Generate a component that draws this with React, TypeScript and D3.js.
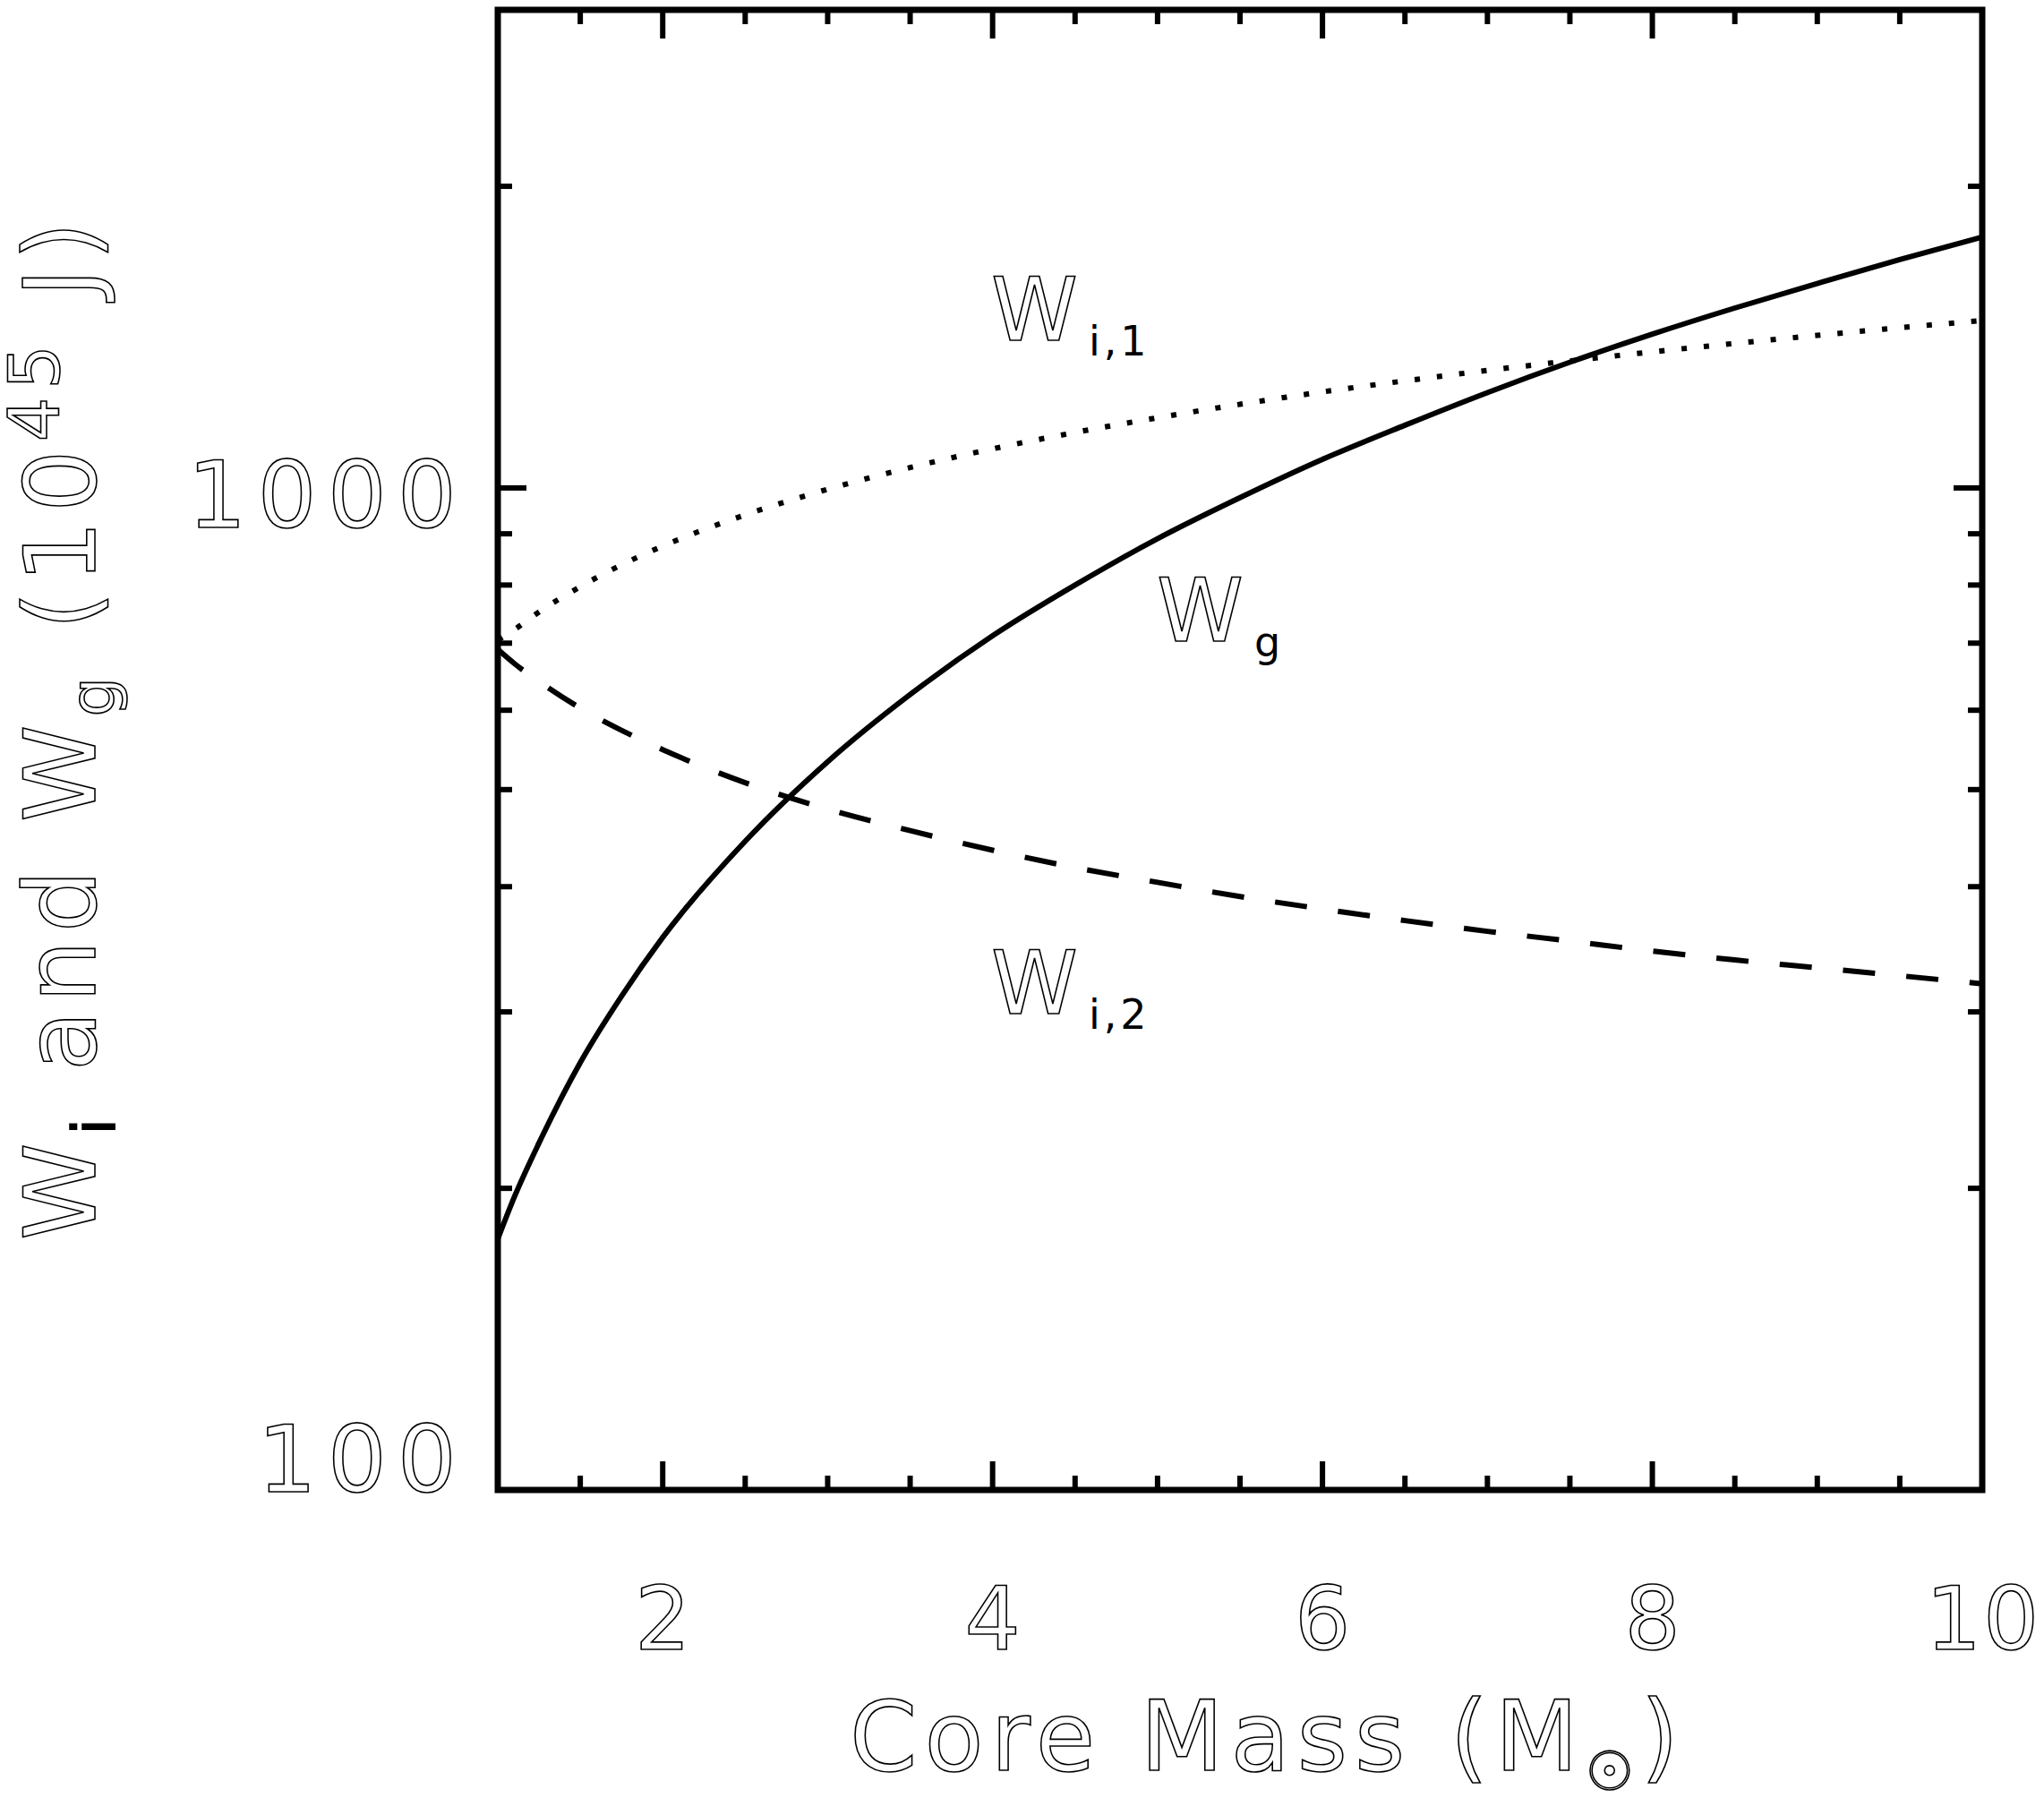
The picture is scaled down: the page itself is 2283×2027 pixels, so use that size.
import * as d3 from "d3";

// core mass (solar masses) sampled along the curves
const masses = [1, 1.1, 1.25, 1.5, 1.75, 2, 2.5, 3, 3.5, 4, 4.5, 5, 5.5, 6, 6.5, 7, 7.5, 8, 8.5, 9, 9.5, 10];
// gravitational binding energy W_g (10^45 J), solid
const wG = [178, 196, 222, 267, 311, 356, 444, 533, 622, 712, 800, 890, 978, 1068, 1155, 1245, 1335, 1424, 1512, 1600, 1690, 1780];
// ionization energy W_i,1 (dotted)
const wI1 = [705, 722, 752, 797, 838, 875, 940, 997, 1048, 1094, 1136, 1175, 1212, 1247, 1279, 1310, 1339, 1367, 1394, 1420, 1445, 1469];
// ionization energy W_i,2 (dashed)
const wI2 = [690, 668, 641, 603, 573, 548, 508, 478, 455, 435, 418, 404, 391, 380, 370, 361, 353, 345, 338, 332, 326, 320];

const xMajor = [2, 4, 6, 8, 10];
const xMinor = [1.5, 2.5, 3, 3.5, 4.5, 5, 5.5, 6.5, 7, 7.5, 8.5, 9, 9.5];
const yMajor = [100, 1000];
const yMinor = [200, 300, 400, 500, 600, 700, 800, 900, 2000];

const W = 2283;
const H = 2027;
const left = 556;
const right = 2214;
const top = 11;
const bottom = 1664;

const font = "'DejaVu Sans',sans-serif";
const txt = { fill: "white", stroke: "black", strokeWidth: 1.6, fontFamily: font } as const;
const sub = { fill: "black", stroke: "none", fontSize: 46, letterSpacing: 4 } as const;

export default function App() {
  const x = d3.scaleLinear().domain([1, 10]).range([left, right]);
  const y = d3.scaleLog().domain([100, 3000]).range([bottom, top]);

  const line = (vals: number[]) =>
    d3
      .line<number>()
      .x((_, i) => x(masses[i]))
      .y((v) => y(v))
      .curve(d3.curveMonotoneX)(vals) ?? "";

  const tickW = 6;
  const majLen = 32;
  const minLen = 16;

  return (
    <svg
      width={W}
      height={H}
      style={{ position: "absolute", left: 0, top: 0, background: "white" }}
    >
      <rect width={W} height={H} fill="white" />

      {/* curves */}
      <path d={line(wG)} fill="none" stroke="black" strokeWidth={6} />
      <path d={line(wI1)} fill="none" stroke="black" strokeWidth={6} strokeDasharray="6,19" />
      <path d={line(wI2)} fill="none" stroke="black" strokeWidth={6} strokeDasharray="36,35" />

      {/* ticks on all four sides */}
      <g stroke="black" strokeWidth={tickW}>
        {xMajor.concat(xMinor).map((t) => {
          const len = xMajor.includes(t) ? majLen : minLen;
          return (
            <g key={"x" + t}>
              <line x1={x(t)} x2={x(t)} y1={bottom} y2={bottom - len} />
              <line x1={x(t)} x2={x(t)} y1={top} y2={top + len} />
            </g>
          );
        })}
        {yMajor.concat(yMinor).map((t) => {
          const len = yMajor.includes(t) ? majLen : minLen;
          return (
            <g key={"y" + t}>
              <line x1={left} x2={left + len} y1={y(t)} y2={y(t)} />
              <line x1={right} x2={right - len} y1={y(t)} y2={y(t)} />
            </g>
          );
        })}
      </g>

      {/* frame */}
      <rect
        x={left}
        y={top}
        width={right - left}
        height={bottom - top}
        fill="none"
        stroke="black"
        strokeWidth={7}
      />

      {/* x tick labels */}
      {xMajor.map((t) => (
        <text key={"xl" + t} x={x(t) + 1} y={1842} textAnchor="middle" fontSize={98} letterSpacing={2} {...txt}>
          {t}
        </text>
      ))}

      {/* y tick labels */}
      {yMajor.map((t) => (
        <text
          key={"yl" + t}
          x={522}
          y={Math.min(y(t) + 44, bottom + 2)}
          textAnchor="end"
          fontSize={104}
          letterSpacing={12}
          {...txt}
        >
          {t}
        </text>
      ))}

      {/* x title */}
      <text x={1416} y={1977} textAnchor="middle" fontSize={108} letterSpacing={8} {...txt}>
        Core Mass (M
        <tspan fontSize={60} dy={22}>☉</tspan>
        <tspan dy={-22}>)</tspan>
      </text>

      {/* y title */}
      <text
        transform="translate(106,812) rotate(-90)"
        textAnchor="middle"
        fontSize={110}
        letterSpacing={9}
        {...txt}
      >
        W<tspan fontSize={66} dy={22} fill="black">i</tspan>
        <tspan dy={-22}> and W</tspan>
        <tspan fontSize={70} dy={22}>g</tspan>
        <tspan dy={-22}> (10</tspan>
        <tspan fontSize={78} dy={-40}>45</tspan>
        <tspan dy={40}> J)</tspan>
      </text>

      {/* curve annotations */}
      <text x={1107} y={380} fontSize={98} {...txt}>
        W<tspan dx={12} dy={17} {...sub}>i,1</tspan>
      </text>
      <text x={1292} y={716} fontSize={98} {...txt}>
        W<tspan dx={12} dy={17} {...sub}>g</tspan>
      </text>
      <text x={1107} y={1132} fontSize={98} {...txt}>
        W<tspan dx={12} dy={17} {...sub}>i,2</tspan>
      </text>
    </svg>
  );
}
